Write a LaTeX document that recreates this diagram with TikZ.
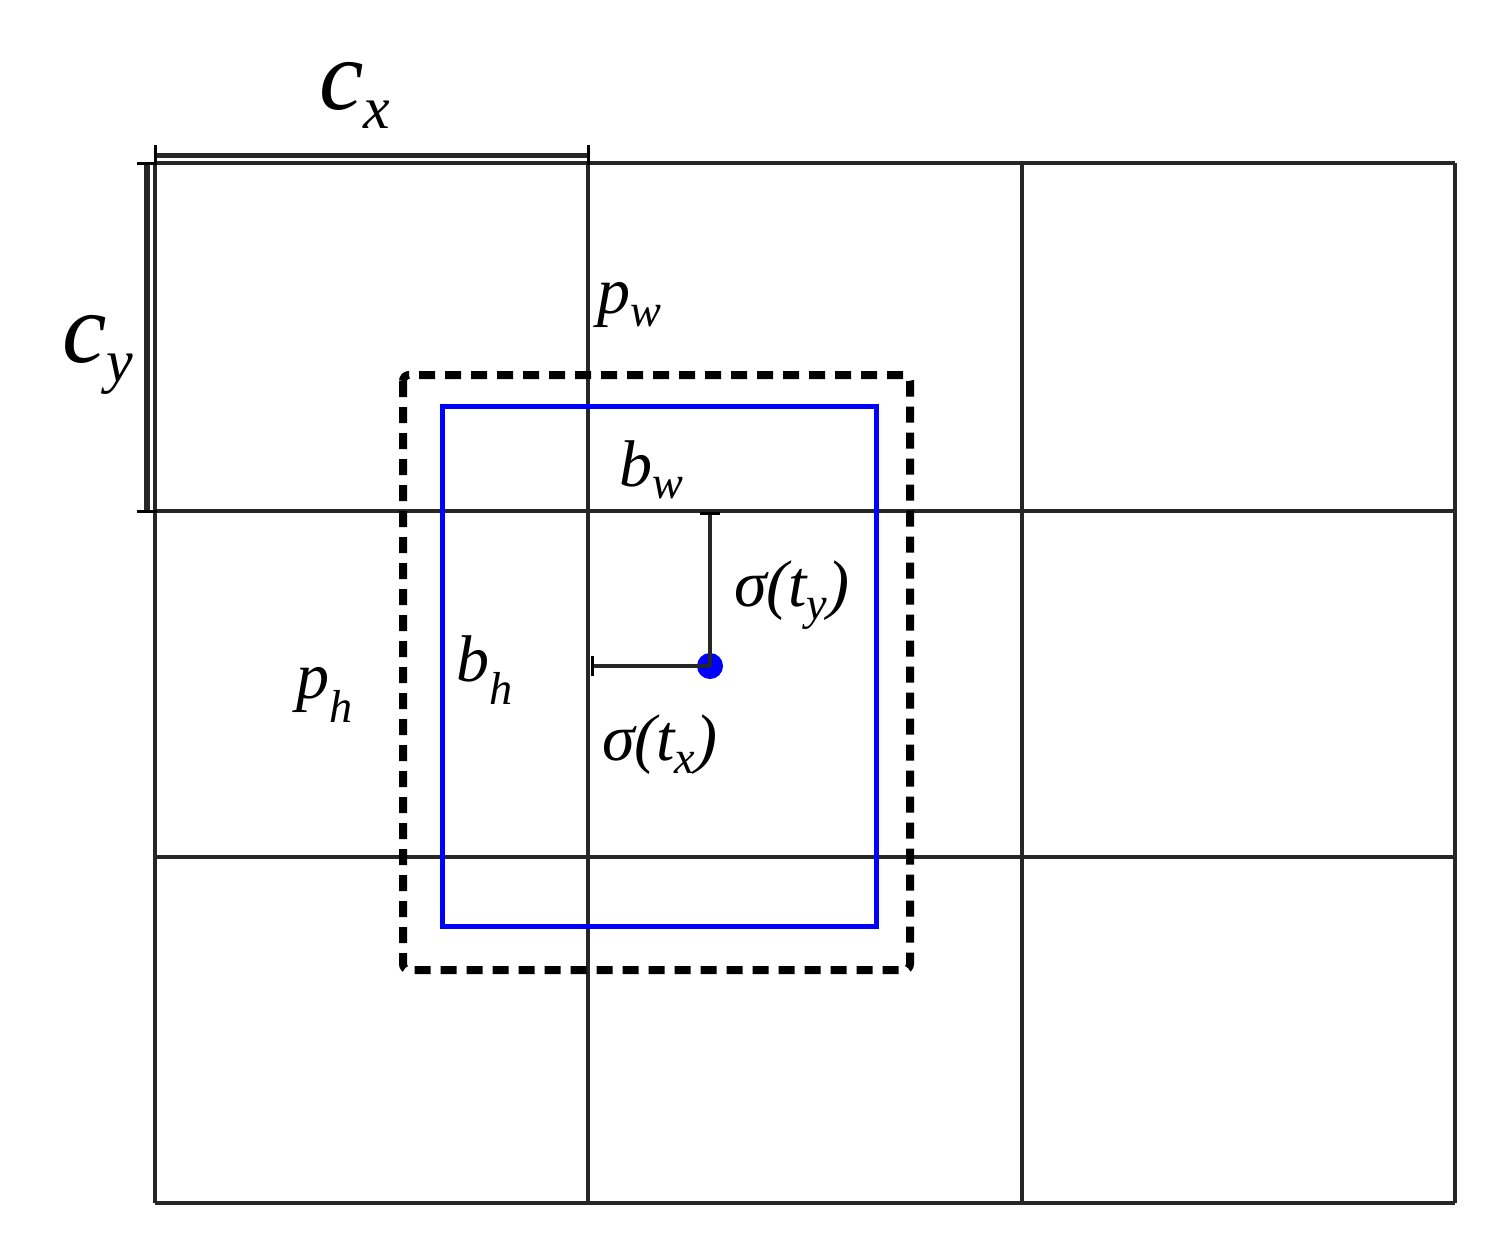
\documentclass[tikz,border=0pt]{standalone}
\usepackage{fontspec}
\setmainfont{Liberation Serif}
\begin{document}
\begin{tikzpicture}[x=1pt,y=-1pt,
  grid/.style={line width=4pt,black!85},
  lbl/.style={font=\fontsize{66}{70}\selectfont\itshape,inner sep=0pt},
  big/.style={font=\fontsize{100}{104}\selectfont\itshape,inner sep=0pt}]
\useasboundingbox (0,0) rectangle (1504,1251);
\foreach \x in {155,588,1022,1455} \draw[grid] (\x,163) -- (\x,1203);
\foreach \y in {163,511,857,1203} \draw[grid] (155,\y) -- (1455,\y);
% brackets
\coordinate (cxa) at (155,155); \coordinate (cxb) at (588,155);
\draw[line width=5pt,black!85] (cxa) -- (cxb);
\draw[line width=3pt] (155,145) -- (155,165) (588,145)--(588,165);
\coordinate (cya) at (147,163); \coordinate (cyb) at (147,511);
\draw[line width=6pt,black!85] (cya) -- (cyb);
\draw[line width=3pt] (137,163) -- (157,163) (137,511)--(157,511);
% boxes
\draw[line width=8pt,dashed,dash pattern=on 16pt off 10pt,rounded corners=6pt] (403,375) rectangle (910,970);
\draw[line width=5pt,blue] (442,406) rectangle (876,926);
% center
\coordinate (top) at (710,513); \coordinate (lft) at (592,666);
\node[circle,fill=blue,minimum size=26pt,inner sep=0pt] (c) at (710,666) {};
\draw[line width=4pt,black!85] (top) -- (c.center) (lft) -- (c.center);
\draw[line width=3pt] (700,513)--(720,513) (592,656)--(592,676);
% labels
\node[big] (lcx) at (355,95) {c\textsubscript{\fontsize{60}{60}\selectfont x}};
\node[big] (lcy) at (98,355) {c\textsubscript{\fontsize{60}{60}\selectfont y}};
\node[lbl] (lpw) at (630,305) {p\textsubscript{w}};
\node[lbl] (lbw) at (652,470) {b\textsubscript{w}};
\node[lbl] (lty) at (792,595) {σ(t\textsubscript{y})};
\node[lbl] (lbh) at (485,670) {b\textsubscript{h}};
\node[lbl] (lph) at (325,695) {p\textsubscript{h}};
\node[lbl] (ltx) at (660,745) {σ(t\textsubscript{x})};
\end{tikzpicture}
\end{document}
